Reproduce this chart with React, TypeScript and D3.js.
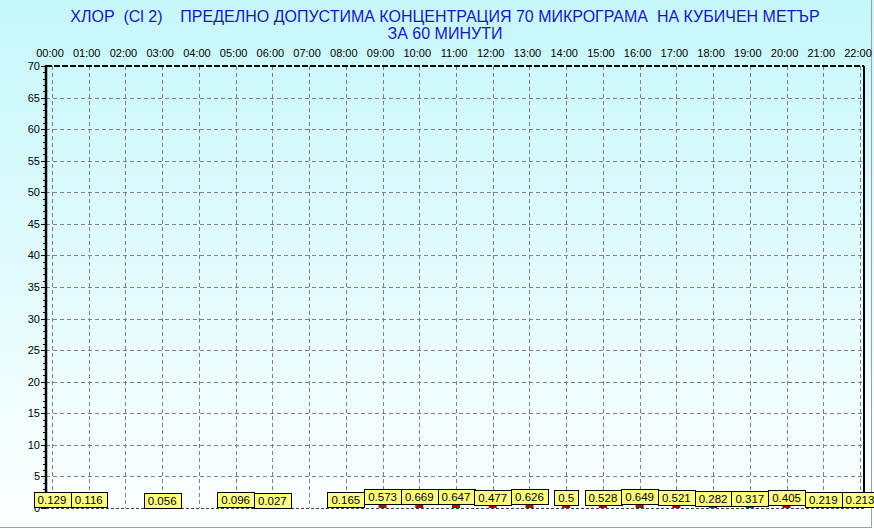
import React, { useEffect, useRef } from 'react';
import * as d3 from 'd3';

// hour tick labels along the top
const hourLabels: string[] = [
	'00:00', '01:00', '02:00', '03:00', '04:00', '05:00', '06:00', '07:00',
	'08:00', '09:00', '10:00', '11:00', '12:00', '13:00', '14:00', '15:00',
	'16:00', '17:00', '18:00', '19:00', '20:00', '21:00', '22:00',
];

// hours that have a measurement (02, 04 and 07 are missing)
const measuredHours: string[] = [
	'00:00', '01:00', '03:00', '05:00', '06:00', '08:00', '09:00', '10:00',
	'11:00', '12:00', '13:00', '14:00', '15:00', '16:00', '17:00', '18:00',
	'19:00', '20:00', '21:00', '22:00',
];

const chlorineValues: number[] = [
	0.129, 0.116, 0.056, 0.096, 0.027, 0.165, 0.573, 0.669, 0.647, 0.477,
	0.626, 0.5, 0.528, 0.649, 0.521, 0.282, 0.317, 0.405, 0.219, 0.213,
];

const yTicks: number[] = [0, 5, 10, 15, 20, 25, 30, 35, 40, 45, 50, 55, 60, 65, 70];

const titleLine1 = 'ХЛОР  (Cl 2)    ПРЕДЕЛНО ДОПУСТИМА КОНЦЕНТРАЦИЯ 70 МИКРОГРАМА  НА КУБИЧЕН МЕТЪР';
const titleLine2 = 'ЗА 60 МИНУТИ';

const width = 874;
const height = 529;
const font = 'Arial, "Liberation Sans", sans-serif';

const App: React.FC = () => {
	const svgRef = useRef<SVGSVGElement>(null);

	useEffect(() => {
		d3.select(svgRef.current).selectAll('*').remove();
		const svg = d3.select(svgRef.current).attr('width', width).attr('height', height);

		const plot = { left: 46, right: 864, top: 66, bottom: 508 };

		// background gradient
		const defs = svg.append('defs');
		const grad = defs
			.append('linearGradient')
			.attr('id', 'bg')
			.attr('x1', 0)
			.attr('y1', 0)
			.attr('x2', 0)
			.attr('y2', 1);
		grad.append('stop').attr('offset', '0%').attr('stop-color', '#c6f7fb');
		grad.append('stop').attr('offset', '100%').attr('stop-color', '#fdffff');
		svg.append('rect').attr('width', width).attr('height', height).attr('fill', 'url(#bg)');

		// outer frame (right + bottom)
		svg.append('line').attr('x1', 0).attr('x2', 871).attr('y1', 527.5).attr('y2', 527.5).attr('stroke', '#a0a0a0');
		svg.append('line').attr('x1', 871.5).attr('x2', 871.5).attr('y1', 0).attr('y2', 528).attr('stroke', '#a0a0a0');

		const x = d3.scalePoint<string>().domain(hourLabels).range([52, 860]);
		const y = d3.scaleLinear().domain([0, 70]).range([plot.bottom, plot.top]);

		// grid
		svg
			.append('g')
			.selectAll('line')
			.data(yTicks.filter((t) => t > 0 && t < 70))
			.enter()
			.append('line')
			.attr('x1', plot.left)
			.attr('x2', plot.right)
			.attr('y1', (d) => Math.round(y(d)) + 0.5)
			.attr('y2', (d) => Math.round(y(d)) + 0.5)
			.attr('stroke', '#808080')
			.attr('stroke-dasharray', '4,3');
		svg
			.append('g')
			.selectAll('line')
			.data(hourLabels)
			.enter()
			.append('line')
			.attr('x1', (d) => Math.round(x(d) as number) + 0.5)
			.attr('x2', (d) => Math.round(x(d) as number) + 0.5)
			.attr('y1', plot.top)
			.attr('y2', plot.bottom)
			.attr('stroke', '#808080')
			.attr('stroke-dasharray', '4,3');

		// plot border
		svg.append('line').attr('x1', plot.left).attr('x2', plot.right).attr('y1', plot.top).attr('y2', plot.top)
			.attr('stroke', '#000').attr('stroke-width', 2).attr('stroke-dasharray', '6,2');
		svg.append('line').attr('x1', plot.left).attr('x2', plot.right).attr('y1', plot.bottom + 0.5).attr('y2', plot.bottom + 0.5)
			.attr('stroke', '#404040').attr('stroke-dasharray', '3,2');
		svg.append('line').attr('x1', plot.right).attr('x2', plot.right).attr('y1', plot.top).attr('y2', plot.bottom)
			.attr('stroke', '#000').attr('stroke-width', 2);

		// y axis
		svg.append('line').attr('x1', plot.left).attr('x2', plot.left).attr('y1', plot.top - 1).attr('y2', plot.bottom)
			.attr('stroke', '#000').attr('stroke-width', 2.5);
		const minorTicks = d3.range(0, 71, 1).filter((t) => t % 5 !== 0);
		svg
			.append('g')
			.selectAll('line')
			.data(minorTicks)
			.enter()
			.append('line')
			.attr('x1', plot.left - 3)
			.attr('x2', plot.left)
			.attr('y1', (d) => Math.round(y(d)) + 0.5)
			.attr('y2', (d) => Math.round(y(d)) + 0.5)
			.attr('stroke', '#000');
		svg
			.append('g')
			.selectAll('line')
			.data(yTicks)
			.enter()
			.append('line')
			.attr('x1', plot.left - 5)
			.attr('x2', plot.left)
			.attr('y1', (d) => Math.round(y(d)) + 0.5)
			.attr('y2', (d) => Math.round(y(d)) + 0.5)
			.attr('stroke', '#000');
		svg
			.append('g')
			.selectAll('text')
			.data(yTicks)
			.enter()
			.append('text')
			.attr('x', plot.left - 6)
			.attr('y', (d) => y(d) + 4)
			.attr('text-anchor', 'end')
			.style('font-family', font)
			.style('font-size', '11px')
			.attr('fill', '#000')
			.text((d) => d);

		// hour labels along the top
		svg
			.append('g')
			.selectAll('text')
			.data(hourLabels)
			.enter()
			.append('text')
			.attr('x', (d) => (x(d) as number) - 2)
			.attr('y', 57)
			.attr('text-anchor', 'middle')
			.style('font-family', font)
			.style('font-size', '11px')
			.attr('fill', '#000')
			.text((d) => d);

		// title
		const title = svg
			.append('text')
			.attr('text-anchor', 'middle')
			.style('font-family', font)
			.style('font-size', '16px')
			.style('white-space', 'pre')
			.attr('fill', '#1818b8');
		title.append('tspan').attr('x', 445).attr('y', 22).text(titleLine1);
		title.append('tspan').attr('x', 445).attr('y', 39).text(titleLine2);

		// bars
		const data = measuredHours.map((h, i) => ({ hour: h, value: chlorineValues[i] }));
		svg
			.append('g')
			.selectAll('rect')
			.data(data)
			.enter()
			.append('rect')
			.attr('x', (d) => (x(d.hour) as number) - 4)
			.attr('width', 8)
			.attr('y', (d) => y(d.value))
			.attr('height', (d) => y(0) - y(d.value))
			.attr('fill', '#b00000');

		// value labels
		const labels = svg
			.append('g')
			.selectAll('g')
			.data(data)
			.enter()
			.append('g');
		labels.each(function (d) {
			const g = d3.select(this);
			const bottom = y(d.value);
			const rect = g.append('rect');
			const t = g
				.append('text')
				.attr('x', x(d.hour) as number)
				.attr('y', bottom - 3)
				.attr('text-anchor', 'middle')
				.style('font-family', font)
				.style('font-size', '11.5px')
				.attr('fill', '#000')
				.text(String(d.value));
			const w = (t.node() as SVGTextElement).getComputedTextLength() + 8;
			rect
				.attr('x', Math.round((x(d.hour) as number) - w / 2) + 0.5)
				.attr('y', Math.round(bottom - 15) + 0.5)
				.attr('width', Math.round(w))
				.attr('height', 15)
				.attr('fill', '#ffff80')
				.attr('stroke', '#000');
		});
	}, []);

	return <svg ref={svgRef} style={{ position: 'absolute', left: 0, top: 0, display: 'block' }} />;
};

export default App;
